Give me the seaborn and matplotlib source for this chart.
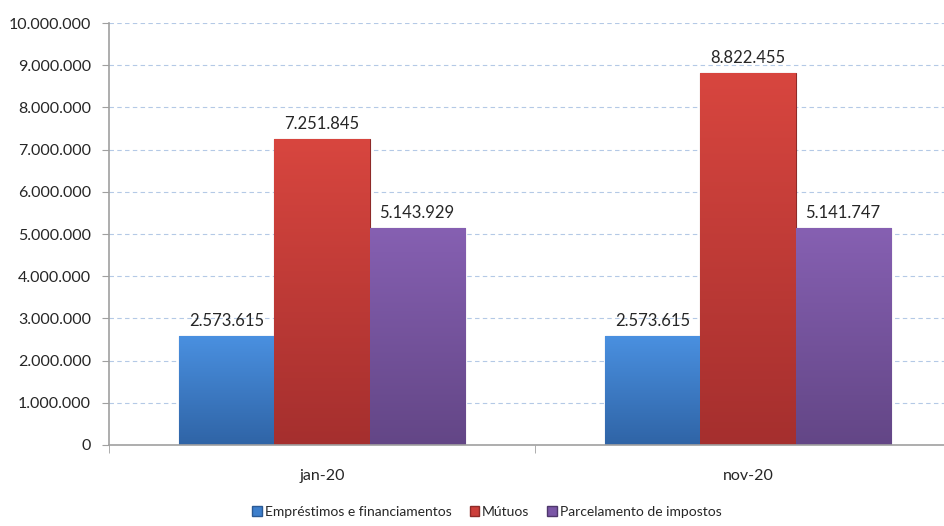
import pandas as pd
import numpy as np
import seaborn as sns
import matplotlib.pyplot as plt
from matplotlib.colors import LinearSegmentedColormap
from matplotlib.ticker import FuncFormatter, FixedLocator

periods = ['jan-20', 'nov-20']
series = ['Empréstimos e financiamentos', 'Mútuos', 'Parcelamento de impostos']
emprestimos = [2573615, 2573615]
mutuos = [7251845, 8822455]
parcelamento = [5143929, 5141747]

df = pd.DataFrame({
    'periodo': periods * 3,
    'serie': [series[0]] * 2 + [series[1]] * 2 + [series[2]] * 2,
    'valor': emprestimos + mutuos + parcelamento,
})

colors = ['#3d7fcc', '#cc3e3a', '#7a56a6']
tops = ['#4a90e0', '#d8463f', '#8660b2']
bottoms = ['#2f64a6', '#a52f2e', '#634686']
edges = ['#2b5a94', '#8e2a28', '#4e376b']

sns.set_style('white')
plt.rcParams['font.family'] = ['Lato', 'DejaVu Sans']

def fmt(v, pos=None):
    return f'{int(v):,}'.replace(',', '.')

fig = plt.figure(figsize=(9.44, 5.26), dpi=100)
ax = fig.add_axes([109 / 944, 1 - 445 / 526, 852 / 944, 422 / 526])

sns.barplot(data=df, x='periodo', y='valor', hue='serie', palette=colors,
            saturation=1, width=0.67, gap=0, ax=ax, legend=False)

ax.set_ylim(0, 10000000)
ax.set_xlim(-0.5, 1.5)

# vertical gradient inside each bar
grad = np.linspace(1, 0, 256).reshape(-1, 1)
for cont, ec, t, b in zip(ax.containers, edges, tops, bottoms):
    cmap = LinearSegmentedColormap.from_list('g', [b, t])
    for bar in cont:
        bar.set_edgecolor(ec)
        bar.set_linewidth(0.8)
        x0, y0 = bar.get_x(), bar.get_y()
        w, h = bar.get_width(), bar.get_height()
        im = ax.imshow(grad, cmap=cmap, aspect='auto', extent=[x0, x0 + w, y0, y0 + h],
                       zorder=bar.get_zorder() + 0.1)
        im.set_clip_path(bar)
    ax.bar_label(cont, labels=[fmt(v) for v in cont.datavalues], padding=5, fontsize=12)

ax.set_ylim(0, 10000000)
ax.set_xlim(-0.5, 1.5)
ax.set_yticks(np.arange(0, 10000001, 1000000))
ax.yaxis.set_major_formatter(FuncFormatter(fmt))
ax.yaxis.grid(True, linestyle=(0, (4, 3)), color='#b4c9e6', linewidth=0.8)
ax.set_axisbelow(True)

for s in ['top', 'right']:
    ax.spines[s].set_visible(False)
ax.spines['left'].set_color('#a0a0a0')
ax.spines['bottom'].set_color('#a0a0a0')
ax.spines['left'].set_linewidth(1.2)
ax.spines['bottom'].set_linewidth(1.2)

ax.tick_params(axis='y', left=True, length=5, color='#a0a0a0', labelsize=11.5, pad=8)
ax.tick_params(axis='x', bottom=False, labelsize=11.5, pad=14)
ax.xaxis.set_minor_locator(FixedLocator([-0.5, 0.5, 1.5]))
ax.tick_params(axis='x', which='minor', bottom=True, length=6, color='#a0a0a0')
ax.set_xlabel('')
ax.set_ylabel('')

handles = [plt.Rectangle((0, 0), 1, 1, facecolor=c, edgecolor=e) for c, e in zip(colors, edges)]
fig.legend(handles, series, loc='center', bbox_to_anchor=(487 / 944, 1 - 512 / 526), ncol=3,
           frameon=False, fontsize=10,
           handlelength=0.7, handleheight=0.7, handletextpad=0.2, columnspacing=1.3)

fig.savefig('out.png', dpi=100)
